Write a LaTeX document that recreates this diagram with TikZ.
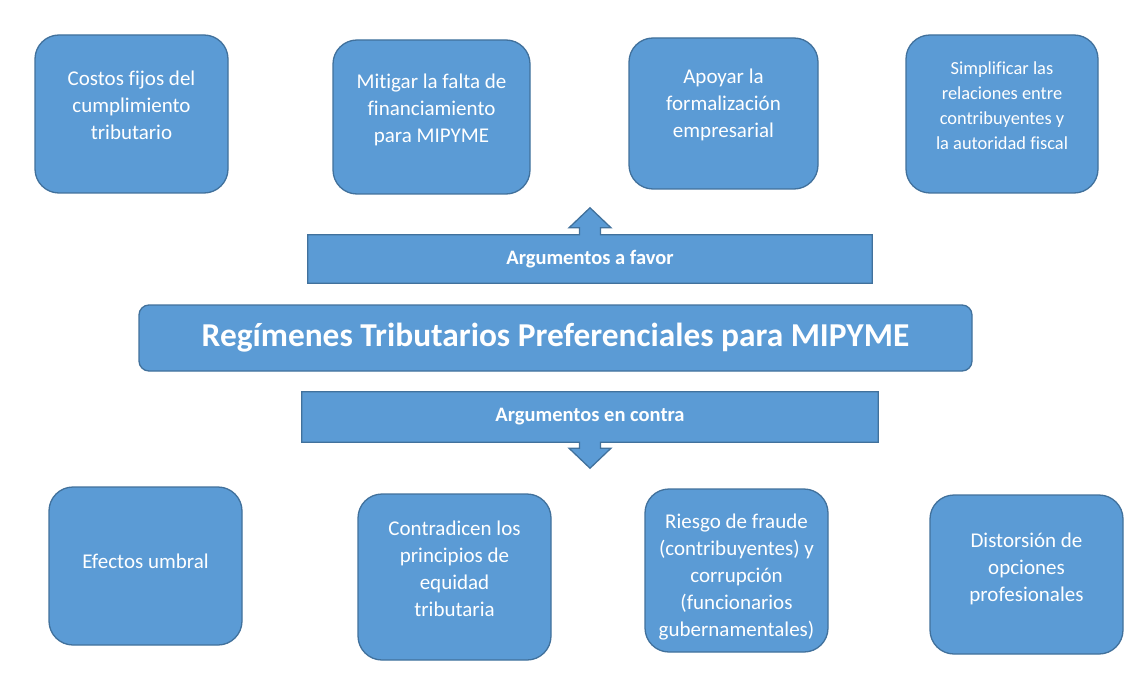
\documentclass[tikz,border=0pt]{standalone}
\usepackage{fontspec}
\setmainfont{Carlito}[Ligatures={NoCommon}]
\definecolor{boxfill}{HTML}{5B9BD5}
\definecolor{boxline}{HTML}{41719C}
\begin{document}
\begin{tikzpicture}[x=1pt,y=-1pt,
        box/.style={rounded corners=24pt,fill=boxfill,draw=boxline,line width=1.3pt},
        boxtext/.style={text=white,align=center,inner sep=0pt,
            font=\fontsize{21}{27}\selectfont},
        bar/.style={fill=boxfill,text=white,inner sep=0pt,
            font=\bfseries\fontsize{20.5}{24}\selectfont},
        outline/.style={draw=boxline,line width=1.3pt,line join=miter}]
\useasboundingbox[fill=white] (0,0) rectangle (1137,687);

% argumentos a favor
\node[box, minimum width=193pt, minimum height=158pt] (favor1) at (131.5,114) {};
\node[box, minimum width=197pt, minimum height=154pt] (favor2) at (431.5,117) {};
\node[box, minimum width=189pt, minimum height=151pt] (favor3) at (723.5,113.5) {};
\node[box, minimum width=192pt, minimum height=158pt] (favor4) at (1002,114) {};
\node[boxtext] (tfavor1) at ([yshift=9pt]favor1.center) {Costos fijos del\\cumplimiento\\tributario};
\node[boxtext] (tfavor2) at ([yshift=7.5pt]favor2.center) {Mitigar la falta de\\financiamiento\\para MIPYME};
\node[boxtext] (tfavor3) at ([yshift=8.5pt]favor3.center) {Apoyar la\\formalizaci\'on\\empresarial};
\node[boxtext, font=\fontsize{18.4}{25}\selectfont] (tfavor4) at ([yshift=8.5pt]favor4.center) {Simplificar las\\relaciones entre\\contribuyentes y\\la autoridad fiscal};

% barras y flechas
\node[bar, minimum width=564pt, minimum height=48pt] (favor) at (590,259) {Argumentos a favor};
\fill[boxfill] ([xshift=-10.5pt,yshift=-1pt]favor.north) -- ++(0,-8) -- ++(-10.5,0)
    -- ([yshift=27pt]favor.north) -- ++(21,20) -- ++(-10.5,0) -- ++(0,8) -- cycle;
\draw[outline] (favor.south west) -- (favor.north west) -- ([xshift=-10.5pt]favor.north)
    -- ++(0,-7) -- ++(-10.5,0) -- ([yshift=27pt]favor.north) -- ++(21,20) -- ++(-10.5,0)
    -- ++(0,7) -- (favor.north east) -- (favor.south east) -- cycle;

\node[bar, rounded corners=10pt, draw=boxline, line width=1.3pt,
    minimum width=833pt, minimum height=66pt, font=\bfseries\fontsize{33.4}{38}\selectfont]
    (rtp) at (555.5,338) {Reg\'imenes Tributarios Preferenciales para MIPYME};

\node[bar, minimum width=576pt, minimum height=50pt] (contra) at (590,417) {Argumentos en contra};
\fill[boxfill] ([xshift=-10.5pt,yshift=1pt]contra.south) -- ++(0,7) -- ++(-10.5,0)
    -- ([yshift=-26pt]contra.south) -- ++(21,-20) -- ++(-10.5,0) -- ++(0,-7) -- cycle;
\draw[outline] (contra.north west) -- (contra.south west) -- ([xshift=-10.5pt]contra.south)
    -- ++(0,6) -- ++(-10.5,0) -- ([yshift=-26pt]contra.south) -- ++(21,-20) -- ++(-10.5,0)
    -- ++(0,-6) -- (contra.south east) -- (contra.north east) -- cycle;

% argumentos en contra
\node[box, minimum width=193pt, minimum height=158pt] (contra1) at (145.5,566) {};
\node[box, minimum width=193pt, minimum height=166pt] (contra2) at (454.5,577) {};
\node[box, minimum width=183pt, minimum height=163pt] (contra3) at (736.5,570.5) {};
\node[box, minimum width=193pt, minimum height=159pt] (contra4) at (1026.5,574.5) {};
\node[boxtext] (tcontra1) at ([yshift=5pt]contra1.center) {Efectos umbral};
\node[boxtext] (tcontra2) at ([yshift=8.5pt]contra2.center) {Contradicen los\\principios de\\equidad\\tributaria};
\node[boxtext] (tcontra3) at ([yshift=-6.5pt]contra3.center) {Riesgo de fraude\\(contribuyentes) y\\corrupci\'on\\(funcionarios\\gubernamentales)};
\node[boxtext] (tcontra4) at ([yshift=5.5pt]contra4.center) {Distorsi\'on de\\opciones\\profesionales};

\end{tikzpicture}
\end{document}
